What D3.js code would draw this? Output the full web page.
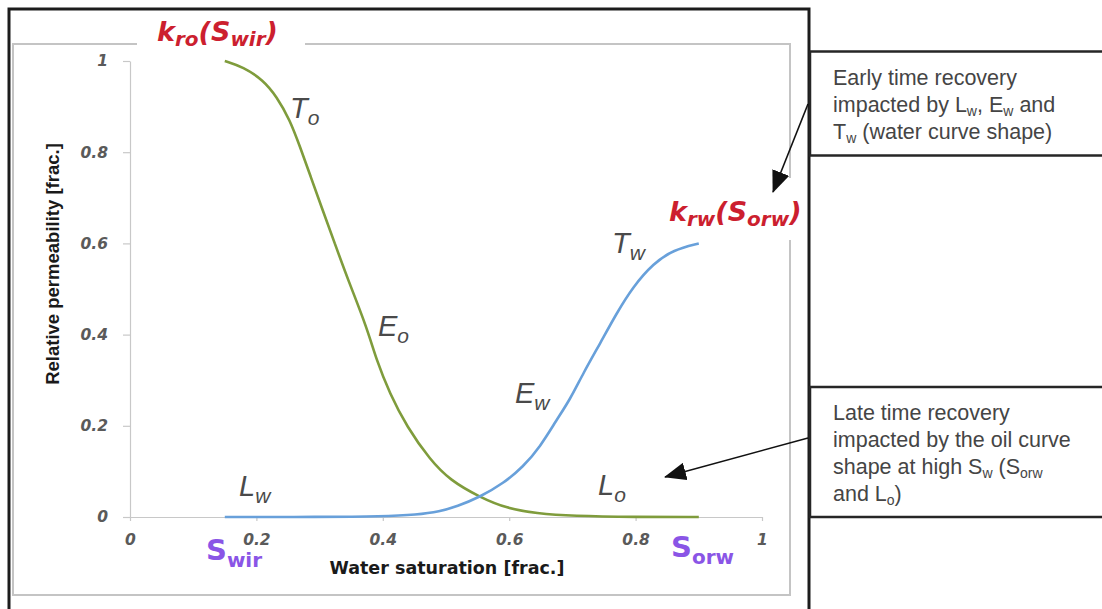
<!DOCTYPE html>
<html>
<head>
<meta charset="utf-8">
<script src="https://cdn.jsdelivr.net/npm/d3@7"></script>
<style>
  html, body { margin: 0; padding: 0; background: #fff; }
  svg { display: block; }
</style>
</head>
<body>
<svg id="chart" width="1102" height="609"></svg>
<script>
// Water saturation (frac.) and oil relative permeability k_ro
const satOil = [0.15, 0.179, 0.211, 0.232, 0.253, 0.269, 0.286, 0.303, 0.324, 0.345, 0.3745, 0.39, 0.411, 0.438, 0.475, 0.506, 0.554, 0.596, 0.643, 0.70, 0.80, 0.90];
const kro    = [1.0, 0.987, 0.958, 0.922, 0.871, 0.812, 0.746, 0.680, 0.600, 0.520, 0.417, 0.344, 0.271, 0.198, 0.125, 0.081, 0.043, 0.019, 0.008, 0.002, 0.0, 0.0];

// Water saturation (frac.) and water relative permeability k_rw
const satWater = [0.15, 0.30, 0.40, 0.454, 0.49, 0.517, 0.554, 0.591, 0.622, 0.649, 0.675, 0.696, 0.717, 0.744, 0.770, 0.796, 0.828, 0.860, 0.90];
const krw      = [0.0, 0.0, 0.001, 0.005, 0.012, 0.023, 0.044, 0.074, 0.110, 0.154, 0.213, 0.257, 0.315, 0.381, 0.447, 0.505, 0.556, 0.586, 0.600];

const xTicks = [0, 0.2, 0.4, 0.6, 0.8, 1];
const yTicks = [0, 0.2, 0.4, 0.6, 0.8, 1];
const tickLabel = d => (d === 0 || d === 1) ? String(d) : d.toFixed(1);

const svg = d3.select("#chart");

const x = d3.scaleLinear().domain([0, 1]).range([130, 762]);
const y = d3.scaleLinear().domain([0, 1]).range([517, 61]);

// Outer black frame (left, top, right)
svg.append("path")
  .attr("d", "M9,609 L9,9 L809,9 L809,609")
  .attr("fill", "none").attr("stroke", "#1c1c1c").attr("stroke-width", 3);

// Inner grey chart border, open where the end-point labels sit
svg.append("path")
  .attr("d", "M137,44 L13,44 L13,595 L790,595 L790,240 M790,178 L790,44 L305,44")
  .attr("fill", "none").attr("stroke", "#c4c4c4").attr("stroke-width", 2);

// Axes
const gx = svg.append("g").attr("transform", `translate(0,${y(0)})`)
  .call(d3.axisBottom(x).tickValues(xTicks).tickFormat(tickLabel).tickSize(4).tickPadding(13).tickSizeOuter(0));
const gy = svg.append("g").attr("transform", `translate(${x(0)},0)`)
  .call(d3.axisLeft(y).tickValues(yTicks).tickFormat(tickLabel).tickSize(7).tickPadding(15).tickSizeOuter(0));

[gx, gy].forEach(g => {
  g.select(".domain").attr("stroke", "#c8c8c8").attr("stroke-width", 1.2);
  g.selectAll(".tick line").attr("stroke", "#c8c8c8").attr("stroke-width", 1.2);
  g.selectAll(".tick text")
    .attr("fill", "#5a5a5a")
    .style("font-family", "'DejaVu Sans', sans-serif")
    .style("font-weight", "bold")
    .style("font-style", "oblique")
    .style("font-size", "15.5px");
});

// Axis titles
svg.append("text")
  .attr("x", 447).attr("y", 574)
  .attr("text-anchor", "middle")
  .attr("fill", "#1a1a1a")
  .style("font-family", "'DejaVu Sans', sans-serif")
  .style("font-weight", "bold")
  .style("font-size", "17.5px")
  .text("Water saturation [frac.]");

svg.append("text")
  .attr("transform", "translate(59,264) rotate(-90)")
  .attr("text-anchor", "middle")
  .attr("fill", "#1a1a1a")
  .style("font-family", "'Liberation Sans Narrow', 'Liberation Sans', sans-serif")
  .style("font-weight", "bold")
  .style("font-size", "18.5px")
  .text("Relative permeability [frac.]");

// Curves
const line = d3.line().x(d => x(d[0])).y(d => y(d[1])).curve(d3.curveBasis);
const oilPts = satOil.map((s, i) => [s, kro[i]]);
const waterPts = satWater.map((s, i) => [s, krw[i]]);

svg.append("path").datum(oilPts)
  .attr("d", line).attr("fill", "none")
  .attr("stroke", "#7f9c3c").attr("stroke-width", 2.6);
svg.append("path").datum(waterPts)
  .attr("d", line).attr("fill", "none")
  .attr("stroke", "#68a0da").attr("stroke-width", 2.6);

// Text with subscripts: parts = [[text, isSub], ...]
function richText(px, py, parts, opt) {
  const t = svg.append("text")
    .attr("x", px).attr("y", py)
    .attr("fill", opt.fill)
    .style("font-family", opt.family)
    .style("font-weight", opt.weight || "normal")
    .style("font-style", opt.style || "normal")
    .style("font-size", opt.size + "px");
  let sub = false;
  parts.forEach(([str, isSub]) => {
    const sp = t.append("tspan").text(str);
    if (isSub && !sub) { sp.attr("dy", opt.shift); sub = true; }
    else if (!isSub && sub) { sp.attr("dy", -opt.shift); sub = false; }
    if (isSub) sp.style("font-size", opt.subSize + "px");
  });
  return t;
}

// Curve-shape parameter labels
const shapeOpt = { fill: "#4a4a4a", family: "'Liberation Sans', Arial, sans-serif", style: "italic", size: 29, subSize: 21, shift: 7 };
richText(290, 118, [["T", false], ["o", true]], shapeOpt);
richText(378, 336, [["E", false], ["o", true]], shapeOpt);
richText(515, 403, [["E", false], ["w", true]], shapeOpt);
richText(612, 253, [["T", false], ["w", true]], shapeOpt);
richText(239, 496, [["L", false], ["w", true]], shapeOpt);
richText(598, 495, [["L", false], ["o", true]], shapeOpt);

// End-point labels
const endOpt = { fill: "#cc1f2f", family: "'DejaVu Sans', sans-serif", weight: "bold", style: "oblique", size: 27, subSize: 20, shift: 5 };
richText(157, 41, [["k", false], ["ro", true], ["(S", false], ["wir", true], [")", false]], endOpt);
richText(669, 221, [["k", false], ["rw", true], ["(S", false], ["orw", true], [")", false]], endOpt);

const satOpt = { fill: "#8a55e6", family: "'DejaVu Sans', sans-serif", weight: "bold", size: 29, subSize: 20, shift: 7 };
richText(206, 560, [["S", false], ["wir", true]], satOpt);
richText(671, 557, [["S", false], ["orw", true]], satOpt);

// Annotation boxes
svg.append("rect").attr("x", 810).attr("y", 51.5).attr("width", 300).attr("height", 104)
  .attr("fill", "#fff").attr("stroke", "#262626").attr("stroke-width", 2.5);
svg.append("rect").attr("x", 810).attr("y", 387).attr("width", 300).attr("height", 130)
  .attr("fill", "#fff").attr("stroke", "#262626").attr("stroke-width", 2.5);

const noteOpt = { fill: "#454545", family: "'Liberation Sans', Arial, sans-serif", size: 21.5, subSize: 14, shift: 4 };
richText(833, 85, [["Early time recovery", false]], noteOpt);
richText(833, 112, [["impacted by L", false], ["w", true], [", E", false], ["w", true], [" and", false]], noteOpt);
richText(833, 139, [["T", false], ["w", true], [" (water curve shape)", false]], noteOpt);

richText(833, 420, [["Late time recovery", false]], noteOpt);
richText(833, 447, [["impacted by the oil curve", false]], noteOpt);
richText(833, 474, [["shape at high S", false], ["w", true], [" (S", false], ["orw", true]], noteOpt);
richText(833, 501, [["and L", false], ["o", true], [")", false]], noteOpt);

// Arrows from the boxes to the curves
svg.append("defs").append("marker")
  .attr("id", "head").attr("viewBox", "0 0 22 18")
  .attr("refX", 21).attr("refY", 9)
  .attr("markerWidth", 22).attr("markerHeight", 18)
  .attr("markerUnits", "userSpaceOnUse")
  .attr("orient", "auto")
  .append("path").attr("d", "M0,0 L22,9 L0,18 Z").attr("fill", "#111");

svg.append("line").attr("x1", 808).attr("y1", 104).attr("x2", 773).attr("y2", 192)
  .attr("stroke", "#111").attr("stroke-width", 1.6).attr("marker-end", "url(#head)");
svg.append("line").attr("x1", 808).attr("y1", 438).attr("x2", 665).attr("y2", 477)
  .attr("stroke", "#111").attr("stroke-width", 1.6).attr("marker-end", "url(#head)");
</script>
</body>
</html>
